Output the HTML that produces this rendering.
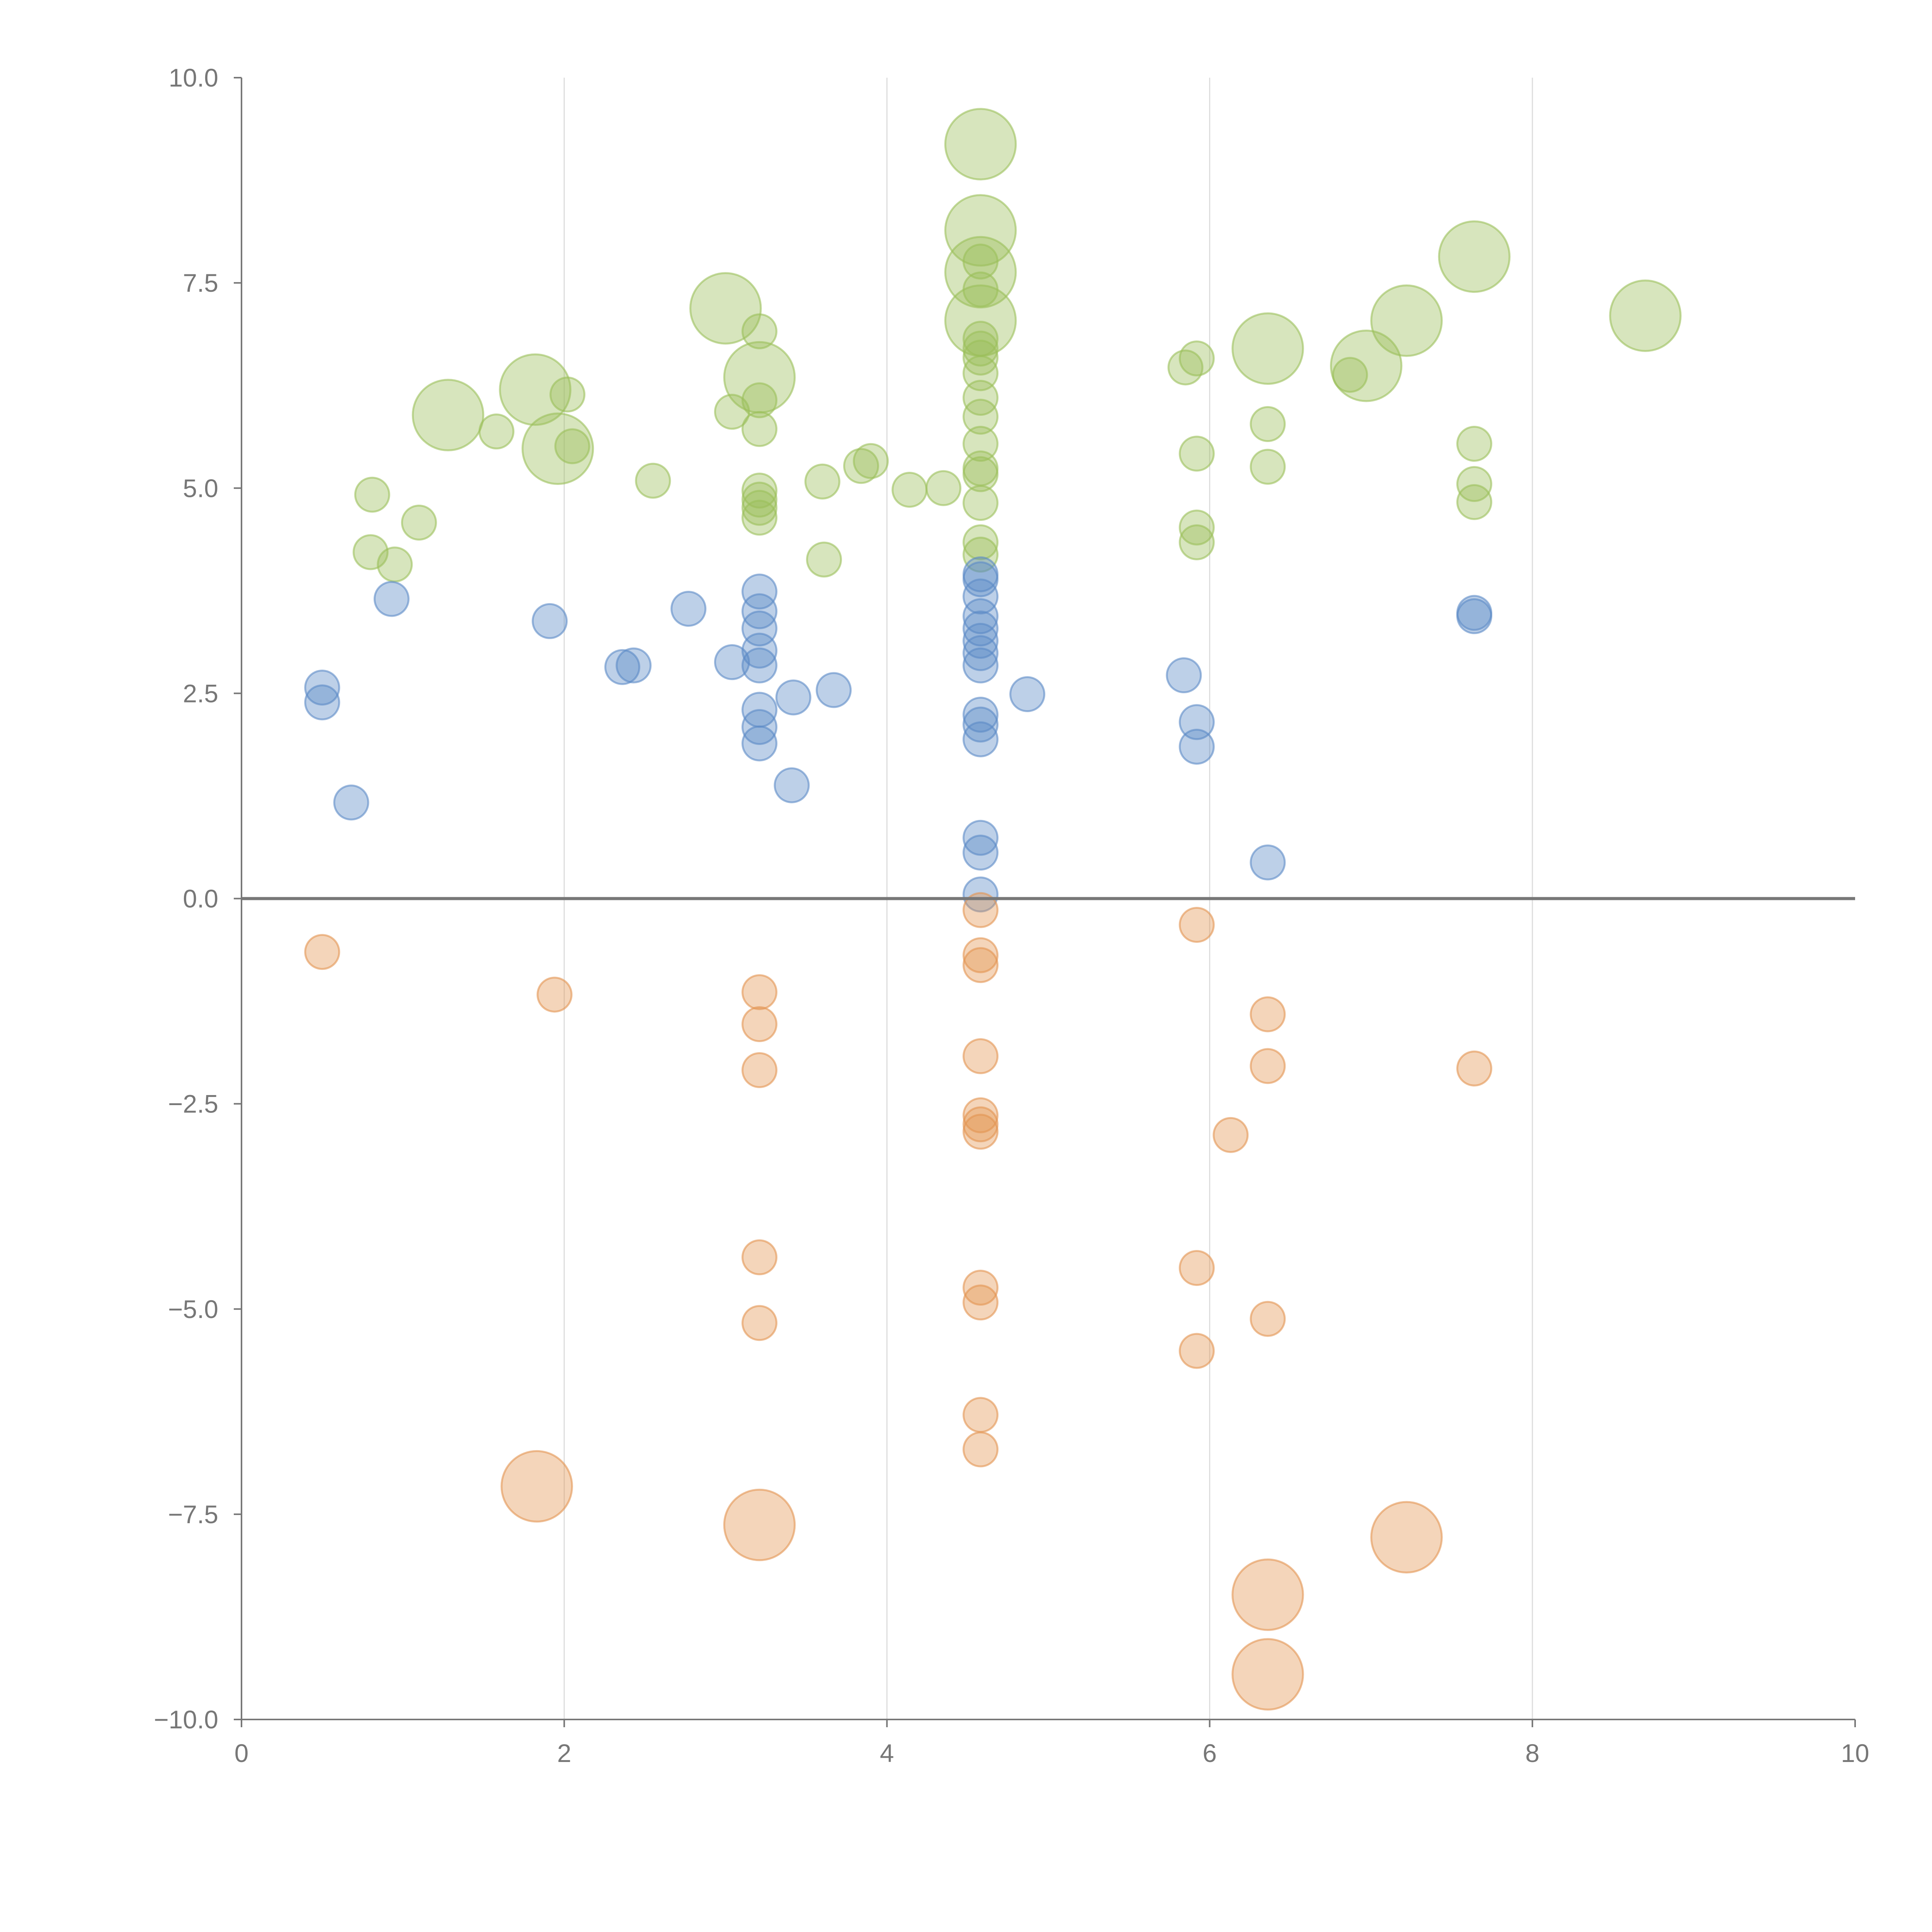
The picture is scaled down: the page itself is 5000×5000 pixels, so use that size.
<!DOCTYPE html>
<html><head><meta charset="utf-8"><style>
html,body{margin:0;padding:0;background:#fff}
svg{display:block}
text{font-family:"Liberation Sans",sans-serif;fill:#777;font-size:66px}
</style></head><body>
<svg id="chart" width="5000" height="5000" viewBox="0 0 5000 5000" xmlns="http://www.w3.org/2000/svg">
<g id="grid"></g>
<g id="marks"></g>
<g id="axes"></g>
</svg>
<script>
const xTicks=[0,2,4,6,8,10];
const yTicks=[-10,-7.5,-5,-2.5,0,2.5,5,7.5,10];
const yTickLabels=["\u221210.0","\u22127.5","\u22125.0","\u22122.5","0.0","2.5","5.0","7.5","10.0"];
const seriesNames=["green","blue","orange"];
const greenX=[4.58,4.58,4.58,4.58,7.64,8.70,7.22,6.97,6.36,3.00,3.21,1.82,1.96,1.28,
4.58,4.58,4.58,4.58,4.58,4.58,4.58,4.58,4.58,4.58,4.58,4.58,4.58,4.58,
3.21,3.21,3.21,3.21,3.21,3.21,3.21,
3.04,2.02,2.05,1.58,2.55,1.10,0.81,0.80,0.95,3.60,3.61,3.84,3.90,4.14,4.35,5.85,5.92,5.92,5.92,5.92,6.36,6.36,6.87,7.64,7.64,7.64];
const greenY=[9.19,8.14,7.63,7.04,7.82,7.10,7.04,6.49,6.70,7.19,6.35,6.20,5.48,5.89,
7.76,7.42,6.82,6.70,6.59,6.40,6.10,5.87,5.54,5.24,5.17,4.82,4.34,4.19,
6.91,6.07,5.72,4.97,4.86,4.76,4.64,
5.93,6.14,5.51,5.69,5.09,4.58,4.92,4.22,4.07,5.08,4.13,5.27,5.33,4.98,5.00,6.47,6.58,5.42,4.52,4.34,5.78,5.26,6.38,5.54,5.05,4.83];
const greenS=[4.3,4.3,4.3,4.3,4.3,4.3,4.3,4.3,4.3,4.3,4.3,4.3,4.3,4.3];
const blueX=[0.50,0.50,0.68,0.93,1.91,2.36,2.43,2.77,3.04,3.21,3.21,3.21,3.21,3.21,3.21,3.21,3.21,3.41,3.42,3.67,
4.58,4.58,4.58,4.58,4.58,4.58,4.58,4.58,4.58,4.58,4.58,4.58,4.58,4.58,4.87,5.84,5.92,5.92,6.36,7.64,7.64];
const blueY=[2.57,2.39,1.17,3.65,3.38,2.82,2.84,3.53,2.88,3.74,3.50,3.29,3.02,2.84,2.30,2.09,1.89,1.38,2.45,2.54,
3.95,3.89,3.68,3.44,3.29,3.14,2.99,2.84,2.24,2.12,1.94,0.74,0.56,0.05,2.49,2.72,2.15,1.85,0.44,3.48,3.44];
const blueS=[];
const orangeX=[0.50,1.94,3.21,3.21,3.21,3.21,3.21,4.58,4.58,4.58,4.58,4.58,4.58,4.58,4.58,4.58,4.58,4.58,5.92,6.36,6.36,6.13,5.92,6.36,5.92,7.64,1.83,3.21,7.22,6.36,6.36];
const orangeY=[-0.65,-1.17,-1.14,-1.53,-2.09,-4.37,-5.17,-0.14,-0.69,-0.81,-1.92,-2.64,-2.75,-2.84,-4.74,-4.92,-6.29,-6.71,-0.32,-1.41,-2.04,-2.88,-4.50,-5.12,-5.51,-2.07,-7.16,-7.63,-7.78,-8.48,-9.45];
const orangeS=[1,1,1,1,1,1,1,1,1,1,1,1,1,1,1,1,1,1,1,1,1,1,1,1,1,1,4.3,4.3,4.3,4.3,4.3];

const X0=625,X1=4801,Y0=4450,Y1=201;
const sx=v=>X0+(v-0)/10*(X1-X0);
const sy=v=>Y0-(v+10)/20*(Y0-Y1);
const rs=s=>44*Math.sqrt(s);
const NS="http://www.w3.org/2000/svg";
function mk(tag,attrs,parent){const e=document.createElementNS(NS,tag);for(const k in attrs)e.setAttribute(k,attrs[k]);parent.appendChild(e);return e;}
const grid=document.getElementById('grid'),marks=document.getElementById('marks'),axes=document.getElementById('axes');
xTicks.forEach(t=>{if(t>0&&t<10){const l=mk('line',{x1:sx(t),x2:sx(t),y1:Y1,y2:Y0,stroke:'#dddddd','stroke-width':3},grid);

}});
const series=[[greenX,greenY,greenS,'#9bbf5a'],[blueX,blueY,blueS,'#5b8ac6'],[orangeX,orangeY,orangeS,'#e39552']];
series.forEach((s,si)=>{const g=mk('g',{},marks);


s[0].forEach((x,i)=>{const sz=s[2][i]!==undefined?s[2][i]:1;
const c=mk('circle',{cx:sx(x),cy:sy(s[1][i]),r:rs(sz),fill:s[3],'fill-opacity':0.4,stroke:s[3],'stroke-opacity':0.6,'stroke-width':5},g);

});});
const z=mk('line',{x1:X0,x2:X1,y1:sy(0),y2:sy(0),stroke:'#777','stroke-width':8},axes);


const ya=mk('line',{x1:X0,x2:X0,y1:Y1,y2:Y0,stroke:'#777','stroke-width':4},axes);


const xa=mk('line',{x1:X0,x2:X1,y1:Y0,y2:Y0,stroke:'#777','stroke-width':4},axes);


yTicks.forEach((t,i)=>{mk('line',{x1:X0-20,x2:X0,y1:sy(t),y2:sy(t),stroke:'#777','stroke-width':4},axes);
const tx=mk('text',{x:X0-60,y:sy(t)+23,'text-anchor':'end'},axes);tx.textContent=yTickLabels[i];

});
xTicks.forEach(t=>{mk('line',{x1:sx(t),x2:sx(t),y1:Y0,y2:Y0+20,stroke:'#777','stroke-width':4},axes);
const tx=mk('text',{x:sx(t),y:Y0+110,'text-anchor':'middle'},axes);tx.textContent=String(t);

});
</script>
</body></html>
